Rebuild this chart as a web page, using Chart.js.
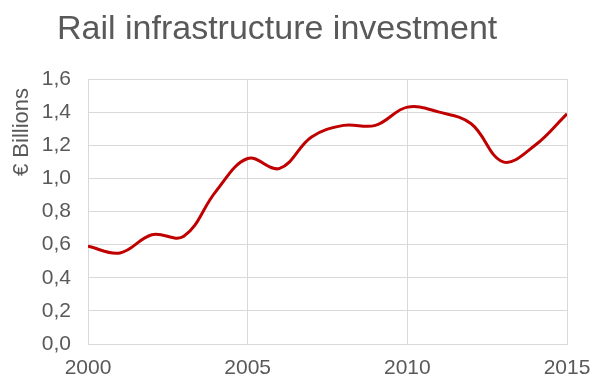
<!DOCTYPE html>
<html>
<head>
<meta charset="utf-8">
<script src="https://cdn.jsdelivr.net/npm/chart.js@4"></script>
<style>
  html, body { margin: 0; padding: 0; background: #fff; }
</style>
</head>
<body>
<canvas id="chart" width="592" height="378"></canvas>
<script>
const years = [2000, 2001, 2002, 2003, 2004, 2005, 2006, 2007, 2008, 2009, 2010, 2011, 2012, 2013, 2014, 2015];
const investment = [0.59, 0.55, 0.66, 0.65, 0.92, 1.12, 1.06, 1.25, 1.32, 1.32, 1.43, 1.40, 1.33, 1.10, 1.20, 1.39];
const yearTicks = [2000, 2005, 2010, 2015];
const chartTitle = 'Rail infrastructure investment';
const yAxisTitle = '€ Billions';

const FONT = '"Liberation Sans", Arial, sans-serif';
const GREY = '#595959';
const GRID = '#d9d9d9';

// title and rotated axis caption, placed by hand
const captions = {
  id: 'captions',
  afterDraw(chart) {
    const ctx = chart.ctx;
    ctx.save();
    ctx.fillStyle = GREY;
    ctx.textBaseline = 'alphabetic';
    ctx.textAlign = 'left';
    ctx.font = '34px ' + FONT;
    ctx.fillText(chartTitle, 57, 39);
    ctx.translate(28, 132);
    ctx.rotate(-Math.PI / 2);
    ctx.textAlign = 'center';
    ctx.font = '22px ' + FONT;
    ctx.fillText(yAxisTitle, 0, 0);
    ctx.restore();
  }
};

new Chart(document.getElementById('chart'), {
  type: 'line',
  data: {
    datasets: [{
      data: years.map((y, i) => ({ x: y, y: investment[i] })),
      borderColor: '#c00000',
      borderWidth: 3,
      tension: 0.38,
      pointRadius: 0,
      fill: false
    }]
  },
  options: {
    responsive: false,
    animation: false,
    layout: { padding: { top: 79, right: 25, left: 0, bottom: 0 } },
    plugins: { legend: { display: false }, tooltip: { enabled: false } },
    scales: {
      x: {
        type: 'linear',
        min: 2000, max: 2015,
        afterBuildTicks: s => { s.ticks = yearTicks.map(v => ({ value: v })); },
        afterFit: s => { s.height = 34; s.paddingLeft = 0; s.paddingRight = 0; },
        grid: { color: GRID, drawTicks: false },
        border: { color: GRID },
        ticks: { color: GREY, font: { family: FONT, size: 21 }, padding: 12, maxRotation: 0, callback: v => String(v) }
      },
      y: {
        min: 0, max: 1.6,
        afterFit: s => { s.width = 88; },
        grid: { color: GRID, drawTicks: false },
        border: { color: GRID },
        ticks: { stepSize: 0.2, color: GREY, font: { family: FONT, size: 21 }, padding: 17,
          callback: v => v.toFixed(1).replace('.', ',') }
      }
    }
  },
  plugins: [captions]
});
</script>
</body>
</html>
